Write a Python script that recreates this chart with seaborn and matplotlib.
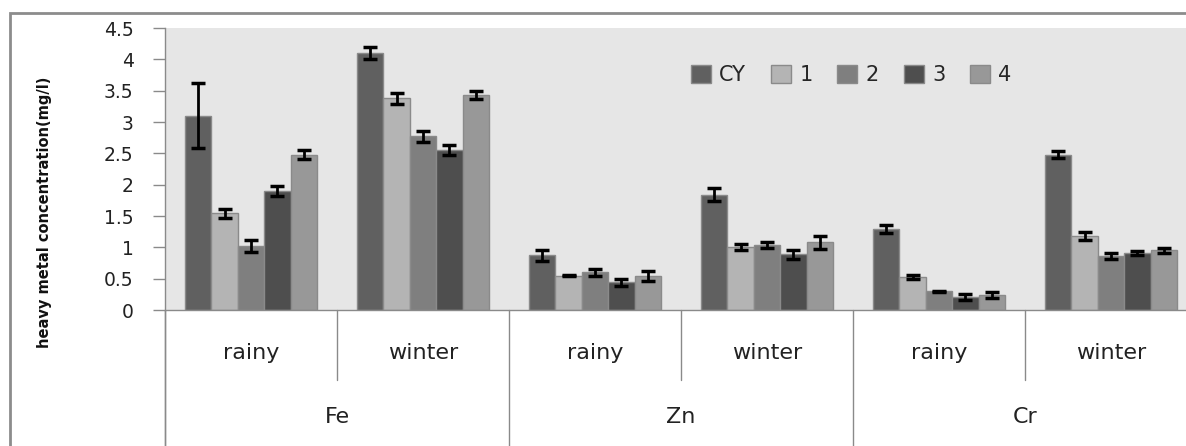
import numpy as np
import pandas as pd
import matplotlib
matplotlib.use("Agg")
import matplotlib.pyplot as plt
import matplotlib.transforms as mtransforms
from matplotlib.patches import Rectangle
from matplotlib.lines import Line2D
import seaborn as sns

# ---------------- data ----------------
metals = ["Fe", "Zn", "Cr"]
seasons = ["rainy", "winter"]
sites = ["CY", "1", "2", "3", "4"]

# order: Fe rainy, Fe winter, Zn rainy, Zn winter, Cr rainy, Cr winter
vals_CY = [3.10, 4.10, 0.87, 1.84, 1.29, 2.48]
vals_1 = [1.54, 3.38, 0.55, 1.00, 0.53, 1.18]
vals_2 = [1.02, 2.77, 0.60, 1.04, 0.30, 0.86]
vals_3 = [1.90, 2.56, 0.44, 0.89, 0.21, 0.91]
vals_4 = [2.48, 3.43, 0.55, 1.08, 0.24, 0.95]

err_CY = [0.52, 0.10, 0.09, 0.10, 0.06, 0.06]
err_1 = [0.07, 0.09, 0.01, 0.05, 0.03, 0.07]
err_2 = [0.10, 0.09, 0.05, 0.05, 0.01, 0.05]
err_3 = [0.08, 0.08, 0.05, 0.07, 0.05, 0.03]
err_4 = [0.07, 0.07, 0.08, 0.10, 0.05, 0.04]

y_ticks = [0, 0.5, 1, 1.5, 2, 2.5, 3, 3.5, 4, 4.5]
y_label = "heavy metal concentration(mg/l)"

colors = {"CY": "#606060", "1": "#b4b4b4", "2": "#7f7f7f", "3": "#4e4e4e", "4": "#989898"}

# ---------------- build table ----------------
categories = [f"{m} {s}" for m in metals for s in seasons]
values = {"CY": vals_CY, "1": vals_1, "2": vals_2, "3": vals_3, "4": vals_4}
errors = {"CY": err_CY, "1": err_1, "2": err_2, "3": err_3, "4": err_4}
rows = []
for site in sites:
    for cat, v, e in zip(categories, values[site], errors[site]):
        rows.append({"category": cat, "site": site, "value": v, "err": e})
df = pd.DataFrame(rows)

# ---------------- figure ----------------
sns.set_style("white")
plt.rcParams["font.family"] = ["DejaVu Sans"]

W, H = 1186, 446
fig = plt.figure(figsize=(W / 100, H / 100), dpi=100)
ax_left, ax_right, ax_top, ax_bottom = 165, 1197, 28, 310
ax = fig.add_axes([ax_left / W, 1 - ax_bottom / H, (ax_right - ax_left) / W, (ax_bottom - ax_top) / H])
ax.set_facecolor("#e6e6e6")

sns.barplot(data=df, x="category", y="value", hue="site", order=categories,
            hue_order=sites, palette=colors, errorbar=None, width=0.77, gap=0,
            edgecolor="#8a8a8a", linewidth=1.0, ax=ax, legend=True)

# error bars from patches positions
for site, cont in zip(sites, ax.containers):
    for patch, e in zip(cont.patches, errors[site]):
        xc = patch.get_x() + patch.get_width() / 2
        ax.errorbar(xc, patch.get_height(), yerr=e, fmt="none", ecolor="black",
                    elinewidth=2.0, capsize=5.0, capthick=2.5, zorder=5)

ax.set_ylim(0, 4.5)
ax.set_xlim(-0.5, len(categories) - 0.5)
ax.set_yticks(y_ticks)
ax.set_yticklabels([f"{t:g}" for t in y_ticks], fontsize=13.5, color="#222222")
ax.tick_params(axis="y", length=8.6, width=1, color="#8a8a8a", pad=14, direction="out", left=True)
ax.set_xticks([])
ax.set_xlabel("")
ax.set_ylabel("")

for s in ["top", "right"]:
    ax.spines[s].set_visible(False)
for s in ["left", "bottom"]:
    ax.spines[s].set_color("#8a8a8a")
    ax.spines[s].set_linewidth(1.0)

# extended left axis line
ax.add_line(Line2D([0, 0], [0, -0.7], transform=ax.transAxes, color="#8a8a8a", lw=1.0, clip_on=False))

# multi-level category labels
trans = mtransforms.blended_transform_factory(ax.transData, ax.transAxes)
for i, cat in enumerate(categories):
    season = cat.split(" ")[1]
    ax.text(i, -0.152, season, transform=trans, ha="center", va="center", fontsize=16, color="#222222")
for j, m in enumerate(metals):
    ax.text(2 * j + 0.5, -0.38, m, transform=trans, ha="center", va="center", fontsize=16, color="#222222")
for k in range(len(categories) + 1):
    xb = k - 0.5
    low = -0.248 if k % 2 == 1 else -0.7
    ax.add_line(Line2D([xb, xb], [0, low], transform=trans, color="#8a8a8a", lw=1.0, clip_on=False))

# legend
handles, labels = ax.get_legend_handles_labels()
ax.legend(handles, labels, loc="center", bbox_to_anchor=(0.665, 0.833), ncol=5, frameon=False,
          fontsize=15, handlelength=0.95, handleheight=0.95, handletextpad=0.4, columnspacing=1.2)

# y label
fig.text(45 / W, 1 - 212 / H, y_label, rotation=90, ha="center", va="center",
         fontsize=10.5, fontweight="bold", family=["Liberation Sans Narrow", "DejaVu Sans"], color="#111111")

# outer chart frame
fig.patches.append(Rectangle((10 / W, -0.1), 1.2, 1 - 12.5 / H + 0.1, transform=fig.transFigure,
                             fill=False, edgecolor="#8c8c8c", lw=2.0, zorder=0))

fig.savefig("out.png", dpi=100)
